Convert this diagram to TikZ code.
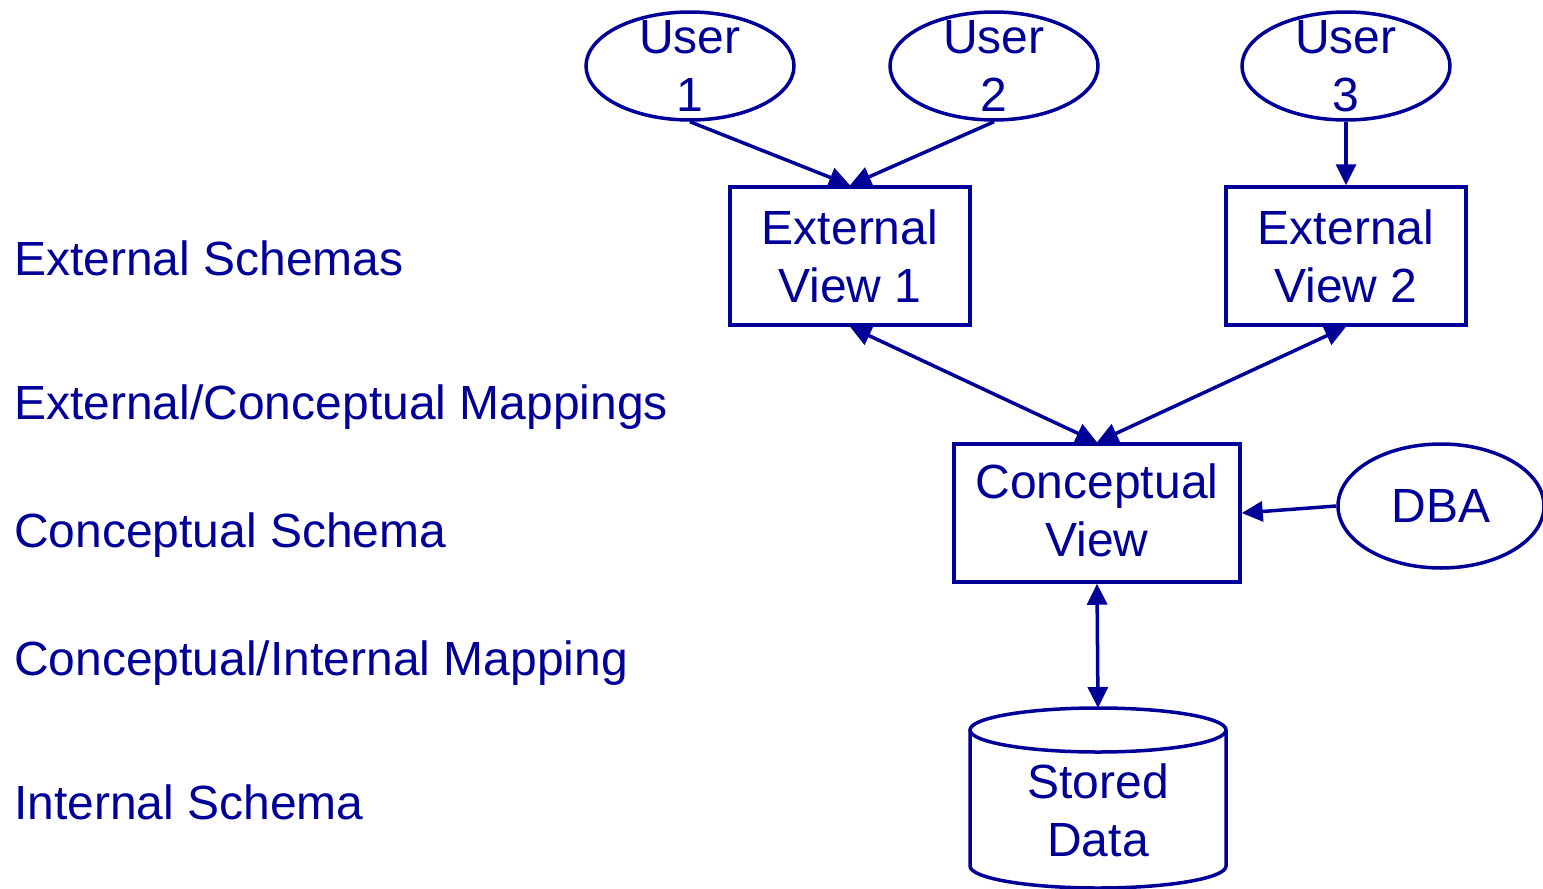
\documentclass[tikz,border=0pt]{standalone}
\usepackage{fontspec}
\setmainfont{Liberation Sans}
\usetikzlibrary{shapes.geometric,arrows.meta}
\definecolor{dblue}{RGB}{0,0,153}
\tikzset{
  every node/.style={text=dblue, font=\fontsize{48}{58}\selectfont},
  user/.style={ellipse, draw=dblue, line width=3.5pt, minimum width=208pt, minimum height=108pt, inner sep=0pt},
  viewbox/.style={rectangle, draw=dblue, line width=3.5pt, inner sep=0pt},
  txt/.style={align=center, inner sep=0pt},
  lbl/.style={anchor=base west, inner sep=0pt},
  conn/.style={draw=dblue, line width=3.5pt, -{Triangle[length=21pt,width=20pt]}},
  dconn/.style={draw=dblue, line width=3.5pt, {Triangle[length=21pt,width=20pt]}-{Triangle[length=21pt,width=20pt]}}
}
\begin{document}
\begin{tikzpicture}[x=1pt,y=-1pt]
\useasboundingbox (0,0) rectangle (1543,889);
% users
\node[user] (u1) at (690,66) {};
\node[txt] (u1t) at (u1.center) {User\\1};
\node[user] (u2) at (994,66) {};
\node[txt] (u2t) at (u2.center) {User\\2};
\node[user] (u3) at (1346,66) {};
\node[txt] (u3t) at (u3.center) {User\\3};
% external views
\node[viewbox, minimum width=240pt, minimum height=138pt] (ev1) at (850,256) {};
\node[txt] (ev1t) at (ev1.center) {External\\View 1};
\node[viewbox, minimum width=240pt, minimum height=138pt] (ev2) at (1346,256) {};
\node[txt] (ev2t) at (ev2.center) {External\\View 2};
% conceptual view
\node[viewbox, minimum width=286pt, minimum height=138pt] (cv) at (1097,513) {};
\node[txt] (cvt) at (1097,510) {Conceptual\\View};
% DBA
\node[ellipse, draw=dblue, line width=3.5pt, minimum width=206pt, minimum height=124pt, inner sep=0pt] (dba) at (1441,506) {};
\node[txt] (dbat) at (dba.center) {DBA};
% stored data cylinder
\coordinate (sdtop) at (1098,708);
\draw[draw=dblue, line width=3.5pt] (1098,730) ellipse [x radius=128, y radius=22];
\draw[draw=dblue, line width=3.5pt] (970,730) -- (970,866) arc[start angle=180, end angle=360, x radius=128, y radius=-22] -- (1226,730);
\node[txt] (sdt) at (1098,810) {Stored\\Data};
% left labels
\node[lbl] (l1) at (14,275) {External Schemas};
\node[lbl] (l2) at (14,419) {External/Conceptual Mappings};
\node[lbl] (l3) at (14,547) {Conceptual Schema};
\node[lbl] (l4) at (14,675) {Conceptual/Internal Mapping};
\node[lbl] (l5) at (14,819) {Internal Schema};
% connectors
\draw[conn] (u1.south) -- (ev1.north);
\draw[conn] (u2.south) -- (ev1.north);
\draw[conn] (u3.south) -- (ev2.north);
\draw[dconn] (ev1.south) -- (cv.north);
\draw[dconn] (ev2.south) -- (cv.north);
\draw[conn] (dba.west) -- (cv.east);
\draw[dconn] (cv.south) -- (sdtop);
\end{tikzpicture}
\end{document}
